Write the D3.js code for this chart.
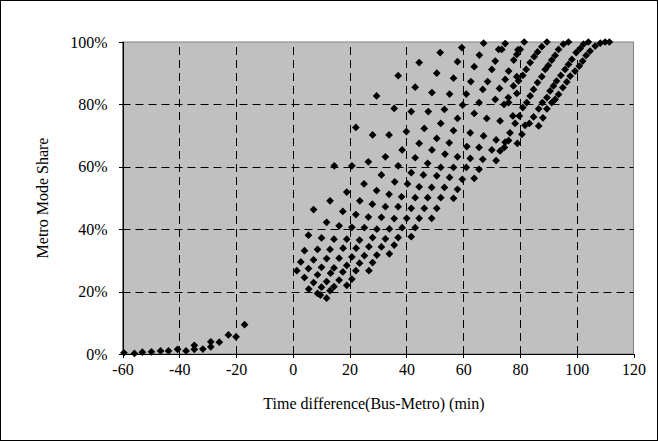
<!DOCTYPE html>
<html><head><meta charset="utf-8">
<script src="https://cdn.jsdelivr.net/npm/d3@7"></script>
<style>body{margin:0;background:#fff}svg{display:block}</style>
</head><body>
<script>
// ---- data ----
const xTicks = [-60,-40,-20,0,20,40,60,80,100,120];
const yTicks = [0,20,40,60,80,100];
const xTitle = "Time difference(Bus-Metro) (min)";
const yTitle = "Metro Mode Share";

const lowerTail = [[-59.5,0.4],[-55.8,0.2],[-53.0,0.6],[-49.8,0.7],[-46.6,1.0],[-43.8,1.0],[-40.6,1.5],[-37.6,1.0],
 [-34.7,2.8],[-34.7,1.5],[-31.7,1.6],[-28.9,3.9],[-28.9,2.3],[-25.9,3.8],[-22.7,6.1],[-20.0,5.5],[-17.0,9.4]];

const cloudLower = [[25.1,54.5],[35.9,55.2],
 [19.0,51.9],[29.5,52.4],[33.9,51.2],[38.3,50.4],
 [13.1,49.1],[23.6,49.1],[28.0,48.0],[32.6,47.2],[37.1,47.2],
 [7.3,46.3],[17.6,45.7],[22.2,44.7],[26.6,43.9],[31.2,43.8],[35.7,43.4],
 [11.9,42.2],[16.3,41.1],[20.8,40.6],[25.2,40.5],[29.6,40.0],[34.0,40.1],[38.5,40.5],
 [5.5,38.1],[10.1,37.2],[14.5,36.8],[19.0,36.8],[23.5,36.5],[28.1,37.3],[32.6,36.9],[37.1,37.3],
 [4.1,33.1],[8.7,33.5],[13.1,33.5],[17.7,33.9],[22.3,33.9],[26.8,34.4],[31.2,34.3],[35.7,34.9],
 [2.8,29.5],[7.3,30.2],[11.9,30.6],[16.3,30.7],[20.8,31.1],[25.2,31.5],[29.6,31.7],[34.0,32.1],
 [1.4,26.7],[5.5,27.4],[10.1,27.8],[14.5,27.6],[19.0,28.4],[23.5,29.1],[28.1,29.3],
 [4.1,24.5],[8.7,25.4],[13.3,25.9],[17.6,26.3],[22.2,26.7],[26.8,26.7],
 [7.3,22.9],[11.9,23.2],[16.3,23.7],[20.8,24.0],
 [5.6,20.8],[10.1,21.4],[14.5,21.6],[19.0,22.0],
 [8.7,19.4],[13.1,20.3],[9.7,18.9],[11.9,17.9],
 [40.4,54.5],[44.5,53.6],[48.9,53.4],[53.4,53.4],
 [43.1,50.1],[47.5,50.1],[52.1,50.1],[56.6,49.9],[58.0,52.8],
 [41.7,46.7],[46.3,46.7],[50.7,46.7],
 [40.1,43.5],[44.5,43.5],[48.9,43.5],
 [43.1,40.5],[41.7,37.6]];

const cloudMiddle = [[37.1,89.2],[29.5,82.7],[35.7,78.7],[22.2,72.6],[28.1,70.2],[33.9,70.2],[40.0,71.3],
 [38.5,65.4],[32.6,63.2],[26.6,61.6],[14.6,60.3],[20.8,60.3],[37.1,60.3],[31.2,57.4],
 [44.5,93.4],[58.0,93.7],[63.9,92.1],[71.3,93.9],[70.1,91.2],[76.0,90.7],
 [50.7,90.0],[56.6,88.4],[62.7,87.3],[68.6,87.3],[74.8,88.0],[78.9,88.9],
 [43.1,85.5],[49.0,83.8],[55.2,83.3],[61.1,83.3],[66.9,84.8],[72.8,85.1],[77.7,85.9],
 [59.8,79.8],[65.6,80.6],[71.3,81.6],[76.0,80.6],[78.9,83.5],
 [41.7,77.7],[47.7,77.7],[53.4,78.4],[63.9,77.1],[68.3,75.5],[73.0,74.7],[77.5,76.3],
 [52.1,73.9],[58.0,75.5],
 [46.3,72.3],[56.6,71.6],[62.5,70.9],[67.2,69.9],[71.6,68.6],[76.0,68.4],
 [44.5,67.5],[50.7,69.1],[55.1,67.7],[61.3,66.5],[65.6,66.2],[70.1,65.4],[74.5,66.2],
 [49.0,65.4],[53.6,64.1],
 [43.1,62.9],[58.0,63.2],[62.5,62.7],[66.9,62.4],[71.6,62.0],
 [47.5,61.1],[52.1,59.8],[56.6,59.8],[61.1,59.8],[65.6,59.2],
 [41.7,58.1],[55.2,56.6],[59.7,56.0],[63.9,56.3],[46.0,57.4],[50.7,57.1],
 [67.2,99.6],[72.5,97.6],[59.5,98.2],[51.9,96.6],[65.7,95.8],
 [78.9,96.0],[77.8,94.2],[73.6,97.6],[75.9,82.2],[74.4,80.0]];

const cloudTopRight = [
 [111.5,100],[110.0,100],[108.3,99.6],[106.5,98.7],[104.7,97.1],[103.3,95.7],[102.1,93.9],[100.9,92.3],
 [99.4,90.7],[97.7,89.1],[96.5,87.2],[95.1,85.4],[93.6,83.2],[92.4,81.6],[91.2,80.6],[89.5,78.6],[88.1,75.7],[86.6,73.1],
 [104.1,100],[102.4,99.3],[101.2,97.9],[99.8,96.6],[98.3,94.4],[97.1,92.8],[95.9,91.2],[94.4,89.3],[92.9,87.5],
 [91.8,85.9],[90.6,84.3],[89.5,82.2],[87.9,80.6],[86.6,78.6],[84.8,76.0],[83.3,73.9],[81.8,73.3],[80.7,70.4],[79.1,67.5],
 [97.1,100],[95.3,99.3],[93.6,97.6],[92.4,95.7],[91.2,94.2],[90.0,92.5],[88.9,91.2],[87.7,88.9],[86.2,87.0],
 [84.8,84.8],[83.6,82.7],[82.4,80.6],[81.0,79.0],[79.8,76.3],[78.3,73.9],[76.5,70.9],[74.8,67.9],[73.0,65.1],
 [89.5,100],[87.7,98.5],[86.2,96.8],[85.0,95.3],[83.6,93.4],[82.2,91.2],[81.0,89.3],[79.5,87.5],
 [81.5,100],[80.1,97.6],[74.8,99.5],[79.3,97.5]];

// ---- layout ----
const W = 658, H = 441;
const m = {left:122.5, right:633.5, top:42, bottom:354};
const svg = d3.select("body").append("svg").attr("width",W).attr("height",H);
svg.append("rect").attr("x",0.5).attr("y",0.5).attr("width",W-1).attr("height",H-1)
  .attr("fill","#fff").attr("stroke","#000").attr("stroke-width",1);

const x = d3.scaleLinear().domain([-60,120]).range([m.left,m.right]);
const y = d3.scaleLinear().domain([0,100]).range([m.bottom,m.top]);

svg.append("rect").attr("x",m.left).attr("y",m.top).attr("width",m.right-m.left).attr("height",m.bottom-m.top)
  .attr("fill","#c0c0c0").attr("stroke","#808080").attr("stroke-width",1);

const grid = svg.append("g").attr("stroke","#000").attr("stroke-width",1).attr("stroke-dasharray","8,5");
grid.selectAll(".vg").data(xTicks.slice(1,-1)).join("line")
  .attr("x1",d=>Math.round(x(d))+0.5).attr("x2",d=>Math.round(x(d))+0.5).attr("y1",m.bottom).attr("y2",m.top);
grid.selectAll(".hg").data(yTicks.slice(1,-1)).join("line")
  .attr("y1",d=>Math.round(y(d))+0.5).attr("y2",d=>Math.round(y(d))+0.5).attr("x1",m.left).attr("x2",m.right);

const font = "'Liberation Serif','Times New Roman',serif";
const xAxis = d3.axisBottom(x).tickValues(xTicks).tickSize(4).tickPadding(6).tickFormat(d=>d);
const yAxis = d3.axisLeft(y).tickValues(yTicks).tickSize(4).tickPadding(11).tickFormat(d=>d+"%");
const gx = svg.append("g").attr("transform",`translate(0,${m.bottom})`).call(xAxis);
const gy = svg.append("g").attr("transform",`translate(${m.left},0)`).call(yAxis);
[gx,gy].forEach(g=>{
  g.selectAll("path,line").attr("stroke","#000").attr("shape-rendering","crispEdges");
  g.selectAll("text").attr("font-family",font).attr("font-size",16).attr("fill","#000");
});

const allPts = lowerTail.concat(cloudLower, cloudMiddle, cloudTopRight);
const sym = d3.symbol().type(d3.symbolSquare).size(30);
svg.append("g").selectAll("path").data(allPts).join("path")
  .attr("d",sym).attr("fill","#000")
  .attr("transform",d=>`translate(${x(d[0])},${y(d[1])}) rotate(45)`);

svg.append("text").attr("x",374).attr("y",409).attr("text-anchor","middle")
  .attr("font-family",font).attr("font-size",16).text(xTitle);
svg.append("text").attr("transform",`translate(48,${(m.top+m.bottom)/2}) rotate(-90)`).attr("text-anchor","middle")
  .attr("font-family",font).attr("font-size",16).text(yTitle);
</script>
</body></html>
